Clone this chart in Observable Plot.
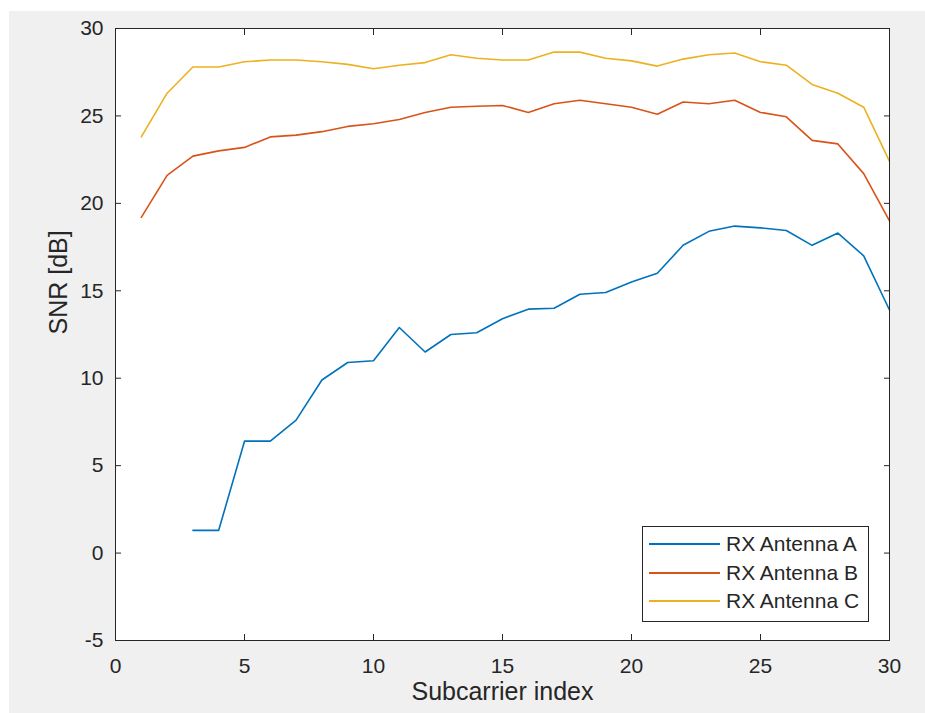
<!DOCTYPE html>
<html>
<head>
<meta charset="utf-8">
<script src="https://cdn.jsdelivr.net/npm/d3@7"></script>
<script src="https://cdn.jsdelivr.net/npm/@observablehq/plot@0.6"></script>
<style>
  html, body { margin: 0; padding: 0; background: #ffffff; }
  #page { position: relative; width: 925px; height: 713px; overflow: hidden; }
  #fig { position: absolute; left: 9px; top: 11px; width: 916px; height: 702px; background: #f0f0f0; }
  #fig svg { display: block; }
  #legend {
    position: absolute; left: 633px; top: 515px; width: 225px; height: 91px;
    border: 1px solid #262626; background: #ffffff;
    font-family: "Liberation Sans", Arial, Helvetica, sans-serif; font-size: 21px; color: #262626;
    padding-top: 3px; box-sizing: content-box;
  }
  .row { display: flex; align-items: center; height: 28.5px; }
  .swatch { margin-left: 6px; width: 71px; height: 2px; }
  .lab { margin-left: 6px; white-space: nowrap; }
</style>
</head>
<body>
<div id="page"><div id="fig"></div></div>
<script>
// Data
const subcarriers = [1,2,3,4,5,6,7,8,9,10,11,12,13,14,15,16,17,18,19,20,21,22,23,24,25,26,27,28,29,30];
const snrA = [null, null, 1.3, 1.3, 6.4, 6.4, 7.6, 9.9, 10.9, 11.0, 12.9, 11.5, 12.5, 12.6, 13.4, 13.95, 14.0, 14.8, 14.9, 15.5, 16.0, 17.6, 18.4, 18.7, 18.6, 18.45, 17.6, 18.3, 17.0, 13.9];
const snrB = [19.2, 21.6, 22.7, 23.0, 23.2, 23.8, 23.9, 24.1, 24.4, 24.55, 24.8, 25.2, 25.5, 25.55, 25.6, 25.2, 25.7, 25.9, 25.7, 25.5, 25.1, 25.8, 25.7, 25.9, 25.2, 24.95, 23.6, 23.4, 21.7, 19.0];
const snrC = [23.8, 26.3, 27.8, 27.8, 28.1, 28.2, 28.2, 28.1, 27.95, 27.7, 27.9, 28.05, 28.5, 28.3, 28.2, 28.2, 28.65, 28.65, 28.3, 28.15, 27.85, 28.25, 28.5, 28.6, 28.1, 27.9, 26.8, 26.3, 25.5, 22.4];
const seriesNames = ["RX Antenna A", "RX Antenna B", "RX Antenna C"];
const seriesColors = ["#0072BD", "#D95319", "#EDB120"];
const xTicks = [0, 5, 10, 15, 20, 25, 30];
const yTicks = [-5, 0, 5, 10, 15, 20, 25, 30];
const xLabel = "Subcarrier index";
const yLabel = "SNR [dB]";

const seriesValues = [snrA, snrB, snrC];
const rows = [];
seriesValues.forEach((vals, s) => {
  subcarriers.forEach((x, i) => {
    rows.push({ series: seriesNames[s], x, y: vals[i] == null ? NaN : vals[i] });
  });
});

const ink = "#262626";
const fontSize = 21;

const chart = Plot.plot({
  width: 916,
  height: 702,
  marginLeft: 106,
  marginTop: 17,
  marginRight: 36,
  marginBottom: 73,
  style: { background: "transparent", fontFamily: "'Liberation Sans', Arial, Helvetica, sans-serif", color: ink, overflow: "visible" },
  x: { domain: [0, 30] },
  y: { domain: [-5, 30] },
  color: { domain: seriesNames, range: seriesColors },
  marks: [
    Plot.frame({ fill: "white", stroke: null }),
    ...seriesNames.map((name, s) =>
      Plot.line(rows.filter(d => d.series === name), { x: "x", y: "y", stroke: "series", strokeWidth: 1.6 })
    ),
    Plot.axisX({ anchor: "bottom", ticks: xTicks, tickSize: -6, tickPadding: 24, fontSize, tickFormat: d => String(d), label: null, stroke: ink, fill: ink }),
    Plot.axisX({ anchor: "top", ticks: xTicks, tickSize: -6, tickFormat: () => "", label: null, stroke: ink }),
    Plot.axisY({ anchor: "left", ticks: yTicks, tickSize: -6, tickPadding: 18, fontSize, tickFormat: d => String(d), label: null, stroke: ink, fill: ink }),
    Plot.axisY({ anchor: "right", ticks: yTicks, tickSize: -6, tickFormat: () => "", label: null, stroke: ink }),
    Plot.frame({ stroke: ink, strokeWidth: 1 }),
    Plot.text([xLabel], { frameAnchor: "bottom", dy: 51, fontSize: 25, fill: ink, lineAnchor: "middle" }),
    Plot.text([yLabel], { frameAnchor: "left", dx: -57, rotate: -90, fontSize: 25, fill: ink, lineAnchor: "middle" })
  ]
});
document.getElementById("fig").appendChild(chart);

// Legend (inside plot area, lower right)
const legend = document.createElement("div");
legend.id = "legend";
seriesNames.forEach((name, i) => {
  const row = document.createElement("div");
  row.className = "row";
  const sw = document.createElement("span");
  sw.className = "swatch";
  sw.style.background = seriesColors[i];
  const lab = document.createElement("span");
  lab.className = "lab";
  lab.textContent = name;
  row.appendChild(sw);
  row.appendChild(lab);
  legend.appendChild(row);
});
document.getElementById("fig").appendChild(legend);
</script>
</body>
</html>
